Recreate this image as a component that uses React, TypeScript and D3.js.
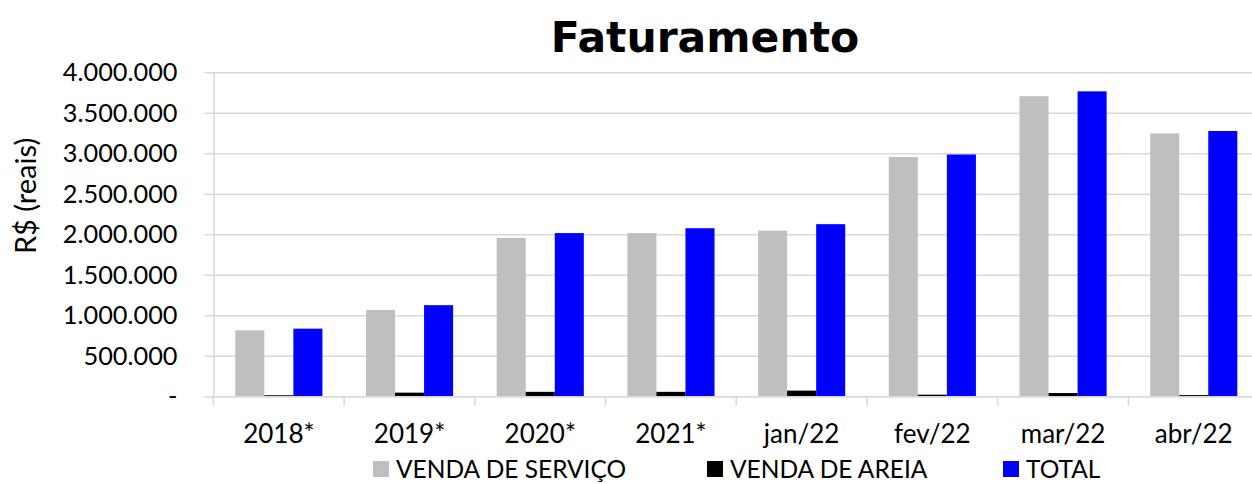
import React, { useEffect, useRef } from 'react';
import * as d3 from 'd3';

const categories = ['2018*', '2019*', '2020*', '2021*', 'jan/22', 'fev/22', 'mar/22', 'abr/22'];
const seriesNames = ['VENDA DE SERVIÇO', 'VENDA DE AREIA', 'TOTAL'];
const servico = [820000, 1070000, 1960000, 2020000, 2050000, 2960000, 3710000, 3250000];
const areia = [18000, 50000, 60000, 60000, 75000, 25000, 45000, 20000];
const total = [840000, 1130000, 2020000, 2080000, 2130000, 2990000, 3770000, 3280000];
const yTicks = [0, 500000, 1000000, 1500000, 2000000, 2500000, 3000000, 3500000, 4000000];
const colors = ['#bfbfbf', '#000000', '#0000ff'];

const W = 1252;
const H = 484;
const font = 'Lato, "Open Sans", sans-serif';

export default function App() {
  const ref = useRef<SVGSVGElement | null>(null);

  useEffect(() => {
    if (!ref.current) return;
    const svg = d3.select(ref.current);
    svg.selectAll('*').remove();

    const left = 213.5;
    const step = 130.7;
    const x0 = d3.scaleBand<string>()
      .domain(categories)
      .range([left, left + step * categories.length])
      .padding(0);
    const x1 = d3.scaleBand<string>()
      .domain(seriesNames)
      .range([0, x0.bandwidth()])
      .paddingInner(0)
      .paddingOuter(0.75);
    const y = d3.scaleLinear().domain([0, 4000000]).range([396.7, 72.7]);

    const locale = d3.formatLocale({ decimal: ',', thousands: '.', grouping: [3], currency: ['R$', ''] });
    const fmt = locale.format(',.0f');

    // gridlines
    svg.append('g')
      .selectAll('line')
      .data(yTicks)
      .enter()
      .append('line')
      .attr('x1', left - 9)
      .attr('x2', W)
      .attr('y1', d => y(d))
      .attr('y2', d => y(d))
      .attr('stroke', '#d9d9d9')
      .attr('stroke-width', 1.6);

    // y axis
    const yAxis = d3.axisLeft(y)
      .tickValues(yTicks)
      .tickSize(0)
      .tickPadding(36)
      .tickFormat(d => (+d === 0 ? '-' : fmt(+d)));
    const ya = svg.append('g')
      .attr('transform', `translate(${left},0)`)
      .call(yAxis);
    ya.select('.domain').attr('stroke', '#d9d9d9').attr('stroke-width', 1.6);
    ya.selectAll('text')
      .attr('font-family', font)
      .attr('font-size', 25.3)
      .attr('fill', '#000');

    // bars
    const seriesData = [servico, areia, total];
    const groups = svg.append('g')
      .selectAll('g')
      .data(categories)
      .enter()
      .append('g')
      .attr('transform', d => `translate(${x0(d)},0)`);
    groups.selectAll('rect')
      .data((_, i) => seriesNames.map((s, j) => ({ s, v: seriesData[j][i], c: colors[j] })))
      .enter()
      .append('rect')
      .attr('x', d => x1(d.s) as number)
      .attr('width', x1.bandwidth())
      .attr('y', d => y(d.v))
      .attr('height', d => y(0) - y(d.v))
      .attr('fill', d => d.c);

    // x axis
    const xAxis = d3.axisBottom(x0).tickSize(0).tickPadding(28);
    const xa = svg.append('g')
      .attr('transform', `translate(0,${y(0)})`)
      .call(xAxis);
    xa.select('.domain').remove();
    xa.selectAll('text')
      .attr('font-family', font)
      .attr('font-size', 26)
      .attr('fill', '#000');
    svg.append('g')
      .selectAll('line')
      .data(d3.range(categories.length + 1))
      .enter()
      .append('line')
      .attr('x1', i => left + i * step)
      .attr('x2', i => left + i * step)
      .attr('y1', y(0))
      .attr('y2', y(0) + 9)
      .attr('stroke', '#d9d9d9')
      .attr('stroke-width', 1.6);
    svg.append('line')
      .attr('x1', left - 9)
      .attr('x2', W)
      .attr('y1', y(0))
      .attr('y2', y(0))
      .attr('stroke', '#d9d9d9')
      .attr('stroke-width', 1.6);

    // title
    svg.append('text')
      .attr('x', 705)
      .attr('y', 52)
      .attr('text-anchor', 'middle')
      .attr('font-family', '"DejaVu Sans", Verdana, sans-serif')
      .attr('font-weight', 'bold')
      .attr('font-size', 42.5)
      .text('Faturamento');

    // y label
    svg.append('text')
      .attr('transform', 'translate(36,196) rotate(-90)')
      .attr('text-anchor', 'middle')
      .attr('font-family', font)
      .attr('font-size', 29)
      .text('R$ (reais)');

    // legend
    const legendX = [373, 707, 1003];
    const lg = svg.append('g')
      .selectAll('g')
      .data(seriesNames)
      .enter()
      .append('g')
      .attr('transform', (_, i) => `translate(${legendX[i]},461)`);
    lg.append('rect')
      .attr('width', 16)
      .attr('height', 16)
      .attr('fill', (_, i) => colors[i]);
    lg.append('text')
      .attr('x', 23)
      .attr('y', 17)
      .attr('font-family', font)
      .attr('font-size', 24.5)
      .text(d => d);
  }, []);

  return (
    <svg
      ref={ref}
      width={W}
      height={H}
      style={{ position: 'absolute', left: 0, top: 0, background: '#fff' }}
    ></svg>
  );
}
